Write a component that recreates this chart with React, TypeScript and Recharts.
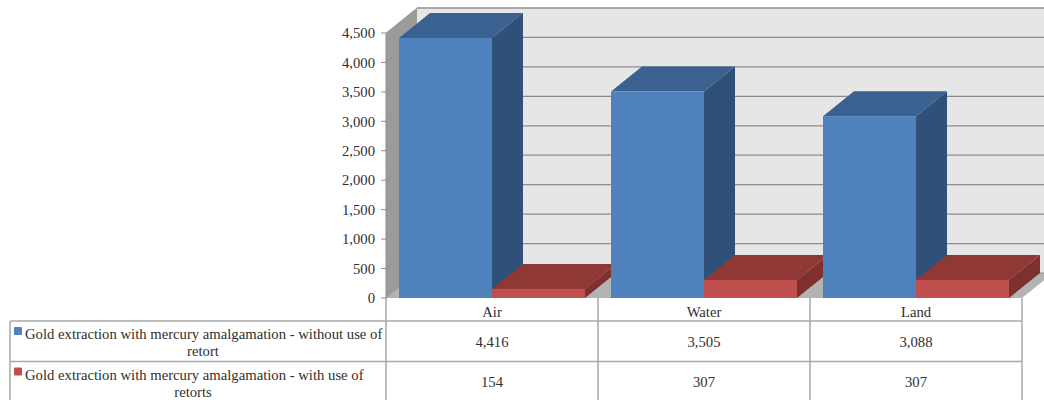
import React from "react";
import { BarChart, Bar, XAxis, YAxis, CartesianGrid, Customized } from "recharts";

const categories = ["Air", "Water", "Land"];
const withoutRetort = [4416, 3505, 3088];
const withRetort = [154, 307, 307];
const yTicks = [0, 500, 1000, 1500, 2000, 2500, 3000, 3500, 4000, 4500];
const rowLabels = [
  ["Gold extraction with mercury amalgamation - without use of", "retort"],
  ["Gold extraction with mercury amalgamation - with use of", "retorts"],
];
const seriesColors = [
  { front: "#4f81bd", top: "#3a6190", side: "#2f5079", key: "#4f81bd" },
  { front: "#c0504d", top: "#8f3836", side: "#7e302e", key: "#c0504d" },
];

const rows = categories.map((name, i) => ({
  name,
  without: withoutRetort[i],
  with: withRetort[i],
}));

// Chart frame and the oblique offset used for the 3D extrusion.
const W = 1044;
const H = 400;
const LEFT = 386;
const RIGHT = 1022;
const TOP = 33;
const BASE = 298;
const DX = 31;
const DY = 25;
const FONT = "'Liberation Serif', serif";
const FONT_SIZE = 14.7;
const TEXT = "#2f2f2f";
const RULE = "#a9a9a9";

const pts = (list: number[][]) => list.map((p) => p.join(",")).join(" ");

function Box(props: any) {
  const { x, y, width, height, colors, clipId } = props;
  const r = x + width;
  const b = y + height;
  return (
    <g clipPath={clipId ? `url(#${clipId})` : undefined}>
      <polygon fill={colors.side} points={pts([[r, y], [r + DX, y - DY], [r + DX, b - DY], [r, b]])} />
      <polygon fill={colors.top} points={pts([[x, y], [r, y], [r + DX, y - DY], [x + DX, y - DY]])} />
      <rect x={x} y={y} width={width} height={height} fill={colors.front} />
    </g>
  );
}

// Walls and floor sit behind the grid and the columns.
function Room() {
  return (
    <g>
      <polygon fill="#e6e6e6" points={pts([[LEFT + DX, TOP - DY], [W, TOP - DY], [W, BASE - DY], [LEFT + DX, BASE - DY]])} />
      <line x1={LEFT + DX} x2={W} y1={TOP - DY} y2={TOP - DY} stroke="#b5b5b5" strokeWidth={1.5} />
      <polygon fill="#9b9b9b" points={pts([[LEFT, TOP], [LEFT + DX, TOP - DY], [LEFT + DX, BASE - DY], [LEFT, BASE]])} />
      <polygon fill="#b3b3b3" points={pts([[LEFT, BASE], [RIGHT, BASE], [RIGHT + DX, BASE - DY], [LEFT + DX, BASE - DY]])} />
    </g>
  );
}

function DataTable() {
  const colW = (RIGHT - LEFT) / categories.length;
  const rowTops = [321, 361.5];
  const rowH = 40.5;
  const series = [withoutRetort, withRetort];
  const fmt = (v: number) => v.toLocaleString("en-US");
  return (
    <g fontFamily={FONT} fontSize={FONT_SIZE} fill={TEXT}>
      <line x1={10} x2={RIGHT} y1={321} y2={321} stroke={RULE} strokeWidth={1.5} />
      <line x1={10} x2={RIGHT} y1={361.5} y2={361.5} stroke={RULE} strokeWidth={1.5} />
      <line x1={10} x2={10} y1={321} y2={H} stroke={RULE} strokeWidth={1.5} />
      {[0, 1, 2, 3].map((i) => (
        <line key={i} x1={LEFT + i * colW} x2={LEFT + i * colW} y1={BASE} y2={H} stroke={RULE} strokeWidth={1.5} />
      ))}
      {rowLabels.map((lines, i) => (
        <g key={i}>
          <rect x={14} y={rowTops[i] + 6} width={8} height={8} rx={1} fill={seriesColors[i].key} />
          <text x={25} y={rowTops[i] + 18}>{lines[0]}</text>
          <text x={i === 0 ? 203 : 193} y={rowTops[i] + 35} textAnchor="middle">{lines[1]}</text>
          {series[i].map((v, j) => (
            <text key={j} x={LEFT + (j + 0.5) * colW} y={rowTops[i] + rowH / 2 + 5.5} textAnchor="middle">{fmt(v)}</text>
          ))}
        </g>
      ))}
    </g>
  );
}

export default function App() {
  return (
    <div style={{ position: "absolute", left: 0, top: 0, width: W, height: H, overflow: "hidden", background: "#fff" }}>
      <BarChart
        width={W}
        height={H}
        data={rows}
        margin={{ top: TOP, right: W - RIGHT, bottom: 0, left: 0 }}
        barSize={93}
        barGap={0}
      >
        <CartesianGrid
          vertical={false}
          horizontal={(p: any) => (
            <g key={p.key ?? p.y1}>
              {p.index === 0 ? <Room /> : null}
              <line x1={p.x1} x2={p.x1 + DX} y1={p.y1} y2={p.y1 - DY} stroke="#8f8f8f" strokeWidth={0.6} />
              <line x1={p.x1 + DX} x2={W} y1={p.y1 - DY} y2={p.y1 - DY} stroke="#8c8c8c" strokeWidth={1.2} />
            </g>
          )}
        />
        <XAxis
          dataKey="name"
          height={H - BASE}
          axisLine={false}
          tickLine={false}
          tickMargin={3}
          tick={{ fontFamily: FONT, fontSize: FONT_SIZE, fill: TEXT }}
        />
        <YAxis
          width={LEFT}
          domain={[0, 4500]}
          ticks={yTicks}
          interval={0}
          tickFormatter={(v: number) => v.toLocaleString("en-US")}
          axisLine={{ stroke: "#8f8f8f" }}
          tickLine={{ stroke: "#8f8f8f" }}
          tickSize={5}
          tickMargin={6}
          tick={{ fontFamily: FONT, fontSize: FONT_SIZE, fill: TEXT }}
        />
        <Bar
          dataKey="without"
          isAnimationActive={false}
          shape={(p: any) => <Box {...p} colors={seriesColors[0]} />}
        />
        <Bar
          dataKey="with"
          isAnimationActive={false}
          shape={(p: any) => {
            const last = p.index === categories.length - 1;
            const clipId = `red-clip-${p.index}`;
            return (
              <g>
                <defs>
                  <clipPath id={clipId}>
                    <rect x={p.x} y={0} width={p.width + (last ? DX : 26)} height={H} />
                  </clipPath>
                </defs>
                <Box {...p} colors={seriesColors[1]} clipId={clipId} />
              </g>
            );
          }}
        />
        <Customized component={DataTable} />
      </BarChart>
    </div>
  );
}
